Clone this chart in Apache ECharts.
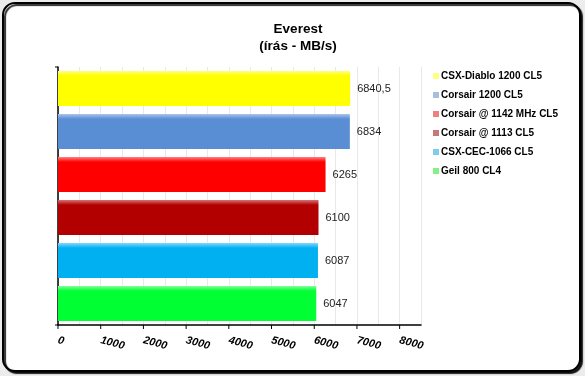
<!DOCTYPE html>
<html>
<head>
<meta charset="utf-8">
<script src="https://cdn.jsdelivr.net/npm/echarts@6/dist/echarts.min.js"></script>
<style>
html,body{margin:0;padding:0;background:#ececec;}
#c{width:585px;height:376px;}
</style>
</head>
<body>
<div id="c"></div>
<script>
var categories = ['CSX-Diablo 1200 CL5','Corsair 1200 CL5','Corsair @ 1142 MHz CL5','Corsair @ 1113 CL5','CSX-CEC-1066 CL5','Geil 800 CL4'];
var values = [6840.5, 6834, 6265, 6100, 6087, 6047];
var barColors = ['#ffff00','#5a8ed4','#ff0000','#b20000','#00b0f0','#00ff33'];
var topColors = ['#ffff80','#a8c4ea','#ff8080','#d87070','#80d8ff','#80ff99'];
var legendColors = ['#ffff80','#a8bedc','#f08080','#c87878','#80cceb','#88ee88'];
var xTicks = [0,1000,2000,3000,4000,5000,6000,7000,8000];

var FONT = '"Liberation Sans", Arial, sans-serif';
var chart = echarts.init(document.getElementById('c'), null, {renderer:'canvas'});

var series = categories.map(function(name, i){
  var d = categories.map(function(_, j){ return j === i ? values[i] : null; });
  return {
    name: name,
    type: 'bar',
    stack: 'all',
    barWidth: '81%',
    data: d,
    itemStyle: {
      color: new echarts.graphic.LinearGradient(0,0,0,1,[
        {offset:0, color: topColors[i]},
        {offset:0.14, color: barColors[i]},
        {offset:1, color: barColors[i]}
      ])
    },
    label: {
      show: true,
      position: 'right',
      distance: 7,
      color: '#222',
      fontFamily: FONT,
      fontSize: 11,
      formatter: function(p){ return String(p.value).replace('.', ','); }
    }
  };
});

var borderRect = {
  type: 'rect',
  z: -10,
  shape: {x: 3, y: 3, width: 577, height: 368, r: 12},
  style: {fill: '#ffffff', stroke: '#000', lineWidth: 2,
    shadowColor: 'rgba(0,0,0,0.85)', shadowBlur: 1, shadowOffsetX: 2, shadowOffsetY: 2}
};

chart.setOption({
  animation: false,
  backgroundColor: 'transparent',
  graphic: [borderRect],
  title: {
    text: 'Everest\n(írás - MB/s)',
    left: 293,
    textAlign: 'center',
    top: 16,
    textStyle: {fontFamily: FONT, fontSize: 13.5, fontWeight: 'bold', color: '#000', lineHeight: 17}
  },
  legend: {
    orient: 'vertical',
    left: 428,
    top: 65,
    icon: 'rect',
    itemWidth: 6,
    itemHeight: 6,
    itemGap: 7,
    selectedMode: false,
    textStyle: {fontFamily: FONT, fontSize: 10, fontWeight: 'bold', color: '#000', lineHeight: 12, padding: [0,0,0,-3]},
    data: categories.map(function(n, i){ return {name: n, itemStyle: {color: legendColors[i]}}; })
  },
  grid: {left: 58, top: 67, right: 164, bottom: 51, containLabel: false},
  xAxis: {
    type: 'value',
    min: 0,
    max: 8500,
    interval: 500,
    axisLine: {show: true, lineStyle: {color: '#000', width: 1.5}},
    axisTick: {show: false},
    axisLabel: {
      rotate: -15,
      margin: 15,
      fontFamily: FONT,
      fontSize: 11,
      fontWeight: 'bold',
      fontStyle: 'italic',
      color: '#000',
      formatter: function(v){ return xTicks.indexOf(v) >= 0 ? String(v) : ''; }
    },
    splitLine: {show: true, lineStyle: {color: '#e8e8e8', width: 1}}
  },
  yAxis: {
    type: 'category',
    inverse: true,
    data: categories,
    axisLine: {show: true, lineStyle: {color: '#000', width: 1.5}},
    axisTick: {show: false},
    axisLabel: {show: false}
  },
  series: series
});

var tickGraphics = xTicks.map(function(v){
  var p = chart.convertToPixel({xAxisIndex:0}, v);
  return {type:'line', shape:{x1:p, y1:325, x2:p, y2:329}, style:{stroke:'#000', lineWidth:1}, z: 10};
});
tickGraphics.push({type:'line', shape:{x1:55, y1:67, x2:58, y2:67}, style:{stroke:'#000', lineWidth:1}, z:10});
tickGraphics.push({type:'line', shape:{x1:55, y1:325, x2:58, y2:325}, style:{stroke:'#000', lineWidth:1}, z:10});
chart.setOption({graphic: [borderRect].concat(tickGraphics)});
</script>
</body>
</html>
